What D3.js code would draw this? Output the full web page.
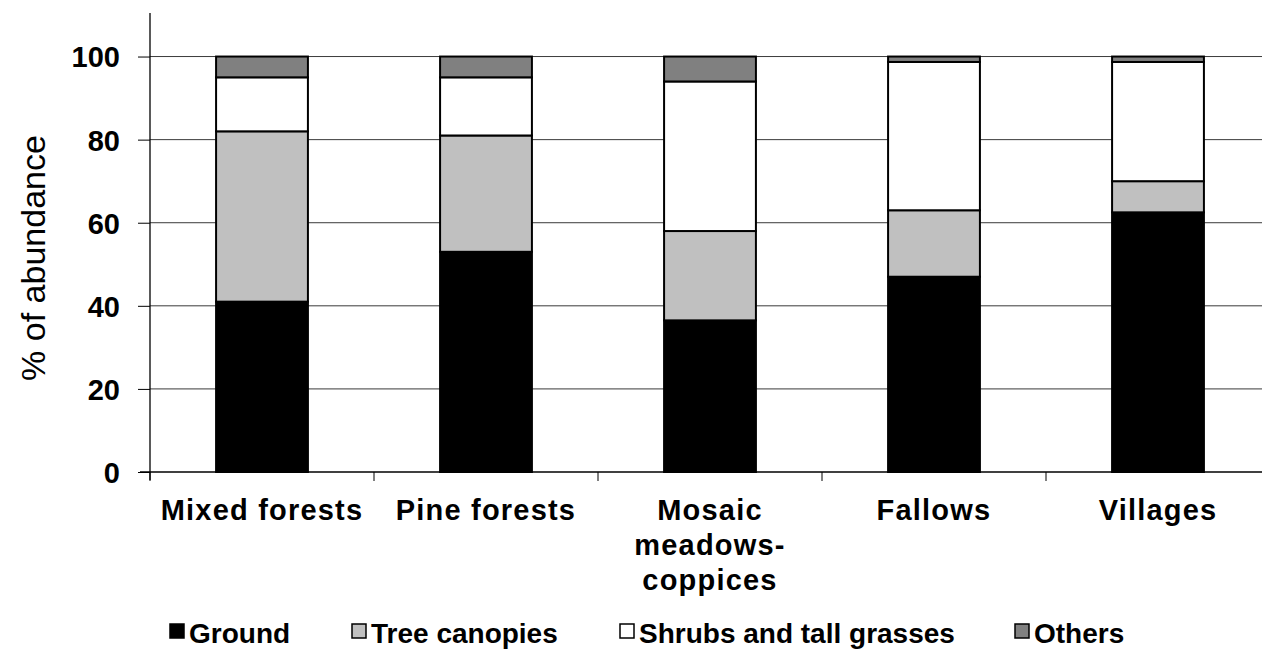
<!DOCTYPE html>
<html>
<head>
<meta charset="utf-8">
<script src="https://cdn.jsdelivr.net/npm/d3@7"></script>
<style>
  body { margin: 0; background: #fff; }
  svg { display: block; font-family: "Liberation Sans", Arial, sans-serif; }
</style>
</head>
<body>
<script>
// data
const categories = ["Mixed forests", "Pine forests", "Mosaic meadows-coppices", "Fallows", "Villages"];
const categoryLines = [["Mixed forests"], ["Pine forests"], ["Mosaic", "meadows-", "coppices"], ["Fallows"], ["Villages"]];
const seriesNames = ["Ground", "Tree canopies", "Shrubs and tall grasses", "Others"];
const ground = [41, 53, 36.5, 47, 62.5];
const treeCanopies = [41, 28, 21.5, 16, 7.5];
const shrubs = [13, 14, 36, 35.7, 28.7];
const others = [5, 5, 6, 1.3, 1.3];
const yTicks = [0, 20, 40, 60, 80, 100];
const colors = ["#000000", "#c0c0c0", "#ffffff", "#808080"];

const w = 1262, h = 653;
const mLeft = 150, mRight = 1270, mTop = 15, mBottom = 472;

const rows = categories.map((c, i) => ({
  cat: c, Ground: ground[i], "Tree canopies": treeCanopies[i],
  "Shrubs and tall grasses": shrubs[i], Others: others[i]
}));
const stacked = d3.stack().keys(seriesNames)(rows);

const svg = d3.select("body").append("svg").attr("width", w).attr("height", h);

const x = d3.scaleBand().domain(categories).range([mLeft, mRight]).paddingInner(0).paddingOuter(0);
const y = d3.scaleLinear().domain([0, 110]).range([mBottom, mTop]);

// gridlines
svg.append("g").selectAll("line").data(yTicks.filter(d => d > 0)).enter().append("line")
  .attr("x1", mLeft).attr("x2", mRight)
  .attr("y1", d => y(d)).attr("y2", d => y(d))
  .attr("stroke", "#3a3a3a").attr("stroke-width", 1);

// bars
const barW = x.bandwidth() * 0.41;
svg.append("g").selectAll("g").data(stacked).enter().append("g")
  .attr("fill", (d, i) => colors[i])
  .selectAll("rect").data(d => d).enter().append("rect")
  .attr("x", d => x(d.data.cat) + (x.bandwidth() - barW) / 2)
  .attr("width", barW)
  .attr("y", d => y(d[1]))
  .attr("height", d => y(d[0]) - y(d[1]))
  .attr("stroke", "#000").attr("stroke-width", 2);

// y axis
const yAxis = svg.append("g").attr("transform", `translate(${mLeft},0)`)
  .call(d3.axisLeft(y).tickValues(yTicks).tickSize(12).tickPadding(18));
yAxis.select(".domain").attr("d", `M0,${mTop - 2}V${mBottom + 8}`).attr("stroke", "#000").attr("stroke-width", 1.3);
yAxis.selectAll(".tick line").attr("stroke", "#000");
yAxis.selectAll(".tick text").attr("font-size", 29).attr("font-weight", "bold").attr("fill", "#000").attr("dy", "0.36em");

// x axis
const xg = svg.append("g");
xg.append("line").attr("x1", mLeft - 10).attr("x2", mRight).attr("y1", mBottom).attr("y2", mBottom)
  .attr("stroke", "#000").attr("stroke-width", 1.3);
xg.selectAll(".xt").data(categories).enter().append("line")
  .attr("x1", d => x(d)).attr("x2", d => x(d))
  .attr("y1", mBottom).attr("y2", mBottom + 9).attr("stroke", "#000");
const lab = xg.selectAll(".xl").data(categories).enter().append("text")
  .attr("x", d => x(d) + x.bandwidth() / 2).attr("y", 520)
  .attr("text-anchor", "middle").attr("font-size", 29).attr("font-weight", "bold")
  .attr("letter-spacing", 1.2);
lab.each(function(d, i) {
  d3.select(this).selectAll("tspan").data(categoryLines[i]).enter().append("tspan")
    .attr("x", x(d) + x.bandwidth() / 2).attr("dy", (t, j) => j === 0 ? 0 : 35).text(t => t);
});

// y title
svg.append("text").attr("transform", "translate(45,258) rotate(-90)")
  .attr("text-anchor", "middle").attr("font-size", 34).text("% of abundance");

// legend
const legX = [170, 352, 620, 1015];
const leg = svg.append("g").selectAll("g").data(seriesNames).enter().append("g")
  .attr("transform", (d, i) => `translate(${legX[i]},0)`);
leg.append("rect").attr("x", 0).attr("y", 624).attr("width", 14).attr("height", 14)
  .attr("fill", (d, i) => colors[i]).attr("stroke", "#000").attr("stroke-width", 1.5);
leg.append("text").attr("x", 19).attr("y", 643).attr("font-size", 28).attr("font-weight", "bold").text(d => d);
</script>
</body>
</html>
